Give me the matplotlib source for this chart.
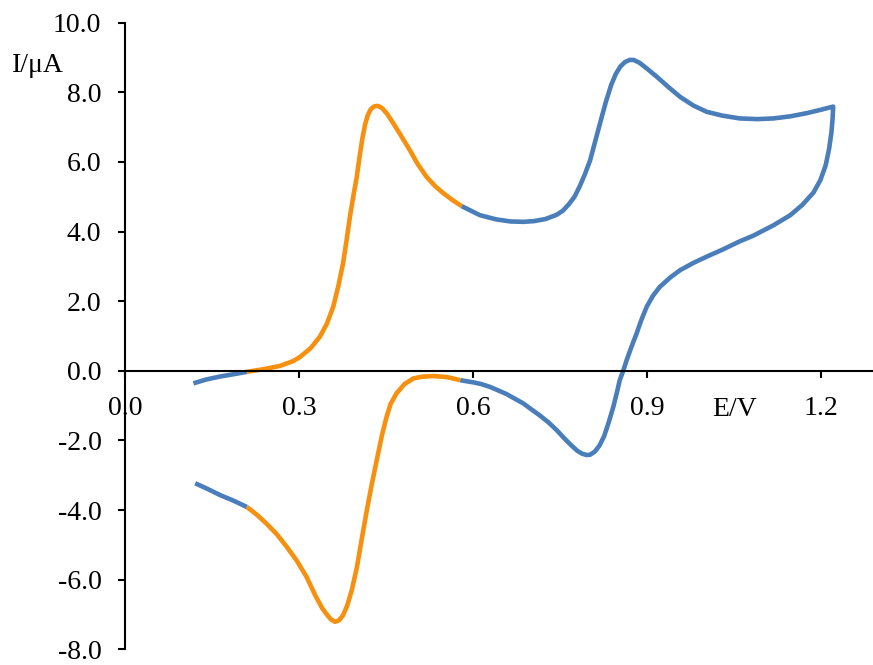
import matplotlib
matplotlib.use("Agg")
import matplotlib.pyplot as plt

# ---- data ----
# forward scan, blue start segment
fwd_blue1_E = [0.118, 0.14, 0.165, 0.19, 0.21]
fwd_blue1_I = [-0.36, -0.25, -0.16, -0.09, -0.03]
# forward scan, first oxidation (orange)
fwd_orange_E = [0.21, 0.24, 0.267, 0.29, 0.302, 0.32, 0.336, 0.348, 0.359, 0.368, 0.376,
                0.382, 0.388, 0.394, 0.3994, 0.404, 0.409, 0.414, 0.419, 0.424, 0.430, 0.436,
                0.443, 0.452, 0.4626, 0.476, 0.491, 0.505, 0.520, 0.535, 0.549, 0.565, 0.5805]
fwd_orange_I = [-0.03, 0.05, 0.14, 0.28, 0.40, 0.65, 0.98, 1.35, 1.84, 2.45, 3.09,
                3.75, 4.45, 5.05, 5.55, 6.1, 6.65, 7.08, 7.36, 7.52, 7.6, 7.61,
                7.55, 7.38, 7.11, 6.75, 6.34, 5.93, 5.57, 5.3, 5.10, 4.90, 4.73]
# forward to vertex and back, second couple (blue)
mid_blue_E = [0.5805, 0.612, 0.64, 0.665, 0.687, 0.705, 0.725, 0.744, 0.755, 0.765, 0.775, 0.784,
              0.793, 0.802, 0.81, 0.819, 0.829, 0.838, 0.846, 0.854, 0.862, 0.870, 0.877,
              0.887, 0.90, 0.9167, 0.937, 0.957, 0.98, 1.003, 1.03, 1.06, 1.09, 1.118,
              1.147, 1.175, 1.20, 1.221,
              1.220, 1.218, 1.214, 1.208, 1.199, 1.187, 1.168, 1.147, 1.118, 1.083, 1.06,
              1.03, 1.003, 0.98, 0.957, 0.94, 0.922, 0.91, 0.8995, 0.89, 0.882, 0.873,
              0.865, 0.859, 0.853, 0.848, 0.842, 0.834, 0.826, 0.818, 0.810, 0.802, 0.796,
              0.788, 0.78, 0.77, 0.758, 0.744, 0.73, 0.715, 0.70, 0.687, 0.672, 0.658, 0.643,
              0.629, 0.614, 0.60, 0.578]
mid_blue_I = [4.73, 4.47, 4.35, 4.29, 4.28, 4.30, 4.36, 4.48, 4.6, 4.78, 5.0, 5.3,
              5.65, 6.05, 6.55, 7.11, 7.72, 8.2, 8.52, 8.74, 8.87, 8.93, 8.93,
              8.85, 8.68, 8.45, 8.15, 7.87, 7.62, 7.44, 7.33, 7.25, 7.23, 7.25,
              7.31, 7.40, 7.50, 7.59,
              7.25, 6.85, 6.38, 5.9, 5.48, 5.12, 4.77, 4.47, 4.18, 3.88, 3.72,
              3.48, 3.28, 3.1, 2.89, 2.68, 2.41, 2.15, 1.84, 1.45, 1.07, 0.68,
              0.31, 0.0, -0.27, -0.63, -1.03, -1.48, -1.88, -2.15, -2.32, -2.41, -2.42,
              -2.38, -2.3, -2.15, -1.95, -1.70, -1.48, -1.28, -1.1, -0.94, -0.8, -0.67, -0.56,
              -0.46, -0.38, -0.33, -0.27]
# reverse scan, first reduction (orange)
rev_orange_E = [0.578, 0.555, 0.532, 0.512, 0.497, 0.482, 0.468, 0.458, 0.451, 0.443, 0.434,
                0.425, 0.417, 0.408, 0.40, 0.391, 0.383, 0.376, 0.369, 0.362, 0.355, 0.348,
                0.34, 0.328, 0.313, 0.296, 0.279, 0.262, 0.244, 0.227, 0.21]
rev_orange_I = [-0.27, -0.18, -0.15, -0.17, -0.22, -0.38, -0.65, -0.95, -1.32, -1.85, -2.57,
                -3.3, -4.00, -4.85, -5.63, -6.3, -6.75, -7.02, -7.17, -7.21, -7.14, -7.0,
                -6.82, -6.45, -5.92, -5.45, -5.06, -4.7, -4.39, -4.13, -3.91]
# reverse scan end (blue)
rev_blue_E = [0.21, 0.187, 0.164, 0.142, 0.121]
rev_blue_I = [-3.91, -3.73, -3.57, -3.39, -3.23]

x_ticks = [0.0, 0.3, 0.6, 0.9, 1.2]
x_ticklabels = ["0.0", "0.3", "0.6", "0.9", "1.2"]
y_ticks = [-8, -6, -4, -2, 0, 2, 4, 6, 8, 10]
y_ticklabels = ["-8.0", "-6.0", "-4.0", "-2.0", "0.0", "2.0", "4.0", "6.0", "8.0", "10.0"]

BLUE = "#4A7EBB"
ORANGE = "#F7900E"

plt.rcParams['font.family'] = ['Liberation Serif', 'DejaVu Serif']

fig = plt.figure(figsize=(8.73, 6.65), dpi=100)
ax = fig.add_axes([125/873, 1 - 649.3/665, 1 - 125/873, (649.3 - 22.7)/665])

lw = 3.3
for E, I, c in [(fwd_blue1_E, fwd_blue1_I, BLUE),
                (fwd_orange_E, fwd_orange_I, ORANGE),
                (mid_blue_E, mid_blue_I, BLUE),
                (rev_orange_E, rev_orange_I, ORANGE),
                (rev_blue_E, rev_blue_I, BLUE)]:
    ax.plot(E, I, color=c, lw=lw, solid_capstyle='butt', solid_joinstyle='round')

ax.set_xlim(0, (873 - 125) / 580)
ax.set_ylim(-8, 10)

ax.spines['top'].set_visible(False)
ax.spines['right'].set_visible(False)
ax.spines['left'].set_position(('data', 0))
ax.spines['bottom'].set_position(('data', 0))
for s in ('left', 'bottom'):
    ax.spines[s].set_linewidth(1.5)
    ax.spines[s].set_color('black')

ax.set_xticks(x_ticks)
ax.set_xticklabels(x_ticklabels)
ax.set_yticks(y_ticks)
ax.set_yticklabels(y_ticklabels)
ax.tick_params(axis='x', direction='out', length=5, width=1.5, pad=13, labelsize=20)
ax.tick_params(axis='y', direction='out', length=5, width=1.5, pad=12, labelsize=20)

fig.text(12/873, 1 - 65/665, "I/μA", ha='left', va='center', fontsize=20)
fig.text(735/873, 1 - 410/665, "E/V", ha='center', va='center', fontsize=20)

fig.savefig("out.png", dpi=100)
